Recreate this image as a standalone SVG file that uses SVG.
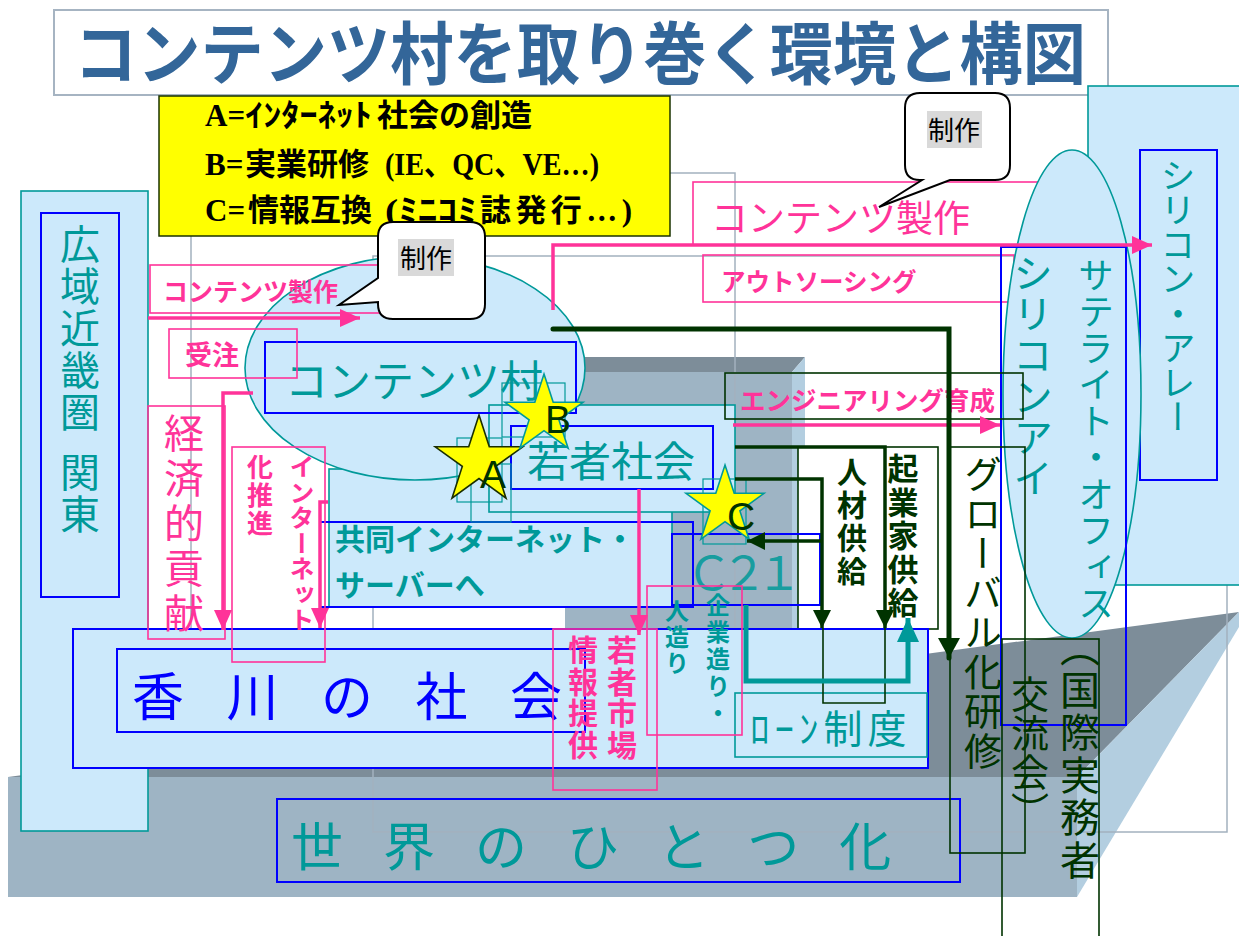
<svg xmlns="http://www.w3.org/2000/svg" width="1239" height="936" viewBox="0 0 1239 936">
<defs>
<style>
text { font-family: 'Noto Sans CJK JP', 'Noto Sans', sans-serif; }
.b { font-weight: bold; }
.v { writing-mode: vertical-rl; }
.pk { fill: #ff3399; }
.tl { fill: #009999; }
.bl { fill: #0000ff; }
.dg { fill: #003300; }
.lb { fill: #cce9fb; }
.nf { fill: none; }
.pbox { fill: none; stroke: #ff3399; stroke-width: 1.6; }
.bbox { stroke: #0000ff; stroke-width: 2; }
.tbox { stroke: #009999; stroke-width: 1.6; }
.gbox { fill: none; stroke: #003300; stroke-width: 1.6; }
.gray { fill: none; stroke: #a3b1be; stroke-width: 1.5; }
.front { fill: #9eb4c4; }
.top { fill: #7d8d99; }
.side { fill: #b3cee0; }
.leg { font-family: 'Liberation Serif', 'Noto Sans CJK JP', serif; font-weight: bold; fill: #000000; }
.parrow { fill: none; stroke: #ff3399; stroke-width: 3.5; marker-end: url(#mp); }
.garrow { fill: none; stroke: #003300; stroke-width: 3.5; marker-end: url(#mg); }
.tarrow { fill: none; stroke: #009999; stroke-width: 5; marker-end: url(#mt); }
.star { fill: #ffff00; stroke-width: 1.6; }
.sbox { fill: none; stroke: #009999; stroke-width: 1.2; }
.bub { fill: #ffffff; stroke: #000000; stroke-width: 2; }
.hl { fill: #d9d9d9; }
.lt { font-family: 'Liberation Sans', sans-serif; fill: #003300; }
</style>
<marker id="mp" markerUnits="userSpaceOnUse" markerWidth="20" markerHeight="18" refX="20" refY="9" orient="auto"><path d="M0,0 L20,9 L0,18 Z" fill="#ff3399"/></marker>
<marker id="mg" markerUnits="userSpaceOnUse" markerWidth="18" markerHeight="18" refX="18" refY="9" orient="auto"><path d="M0,0 L18,9 L0,18 Z" fill="#003300"/></marker>
<marker id="mgb" markerUnits="userSpaceOnUse" markerWidth="20" markerHeight="22" refX="20" refY="11" orient="auto"><path d="M0,0 L20,11 L0,22 Z" fill="#003300"/></marker>
<marker id="mt" markerUnits="userSpaceOnUse" markerWidth="24" markerHeight="22" refX="24" refY="11" orient="auto"><path d="M0,0 L24,11 L0,22 Z" fill="#009999"/></marker>
</defs>

<g id="floor">
<polygon class="front" points="8,777 1077,777 1077,897 8,897"/>
<polygon class="top" points="8,777 1239,612 1077,777"/>
<polygon class="side" points="1077,777 1239,612 1239,627 1077,897"/>
</g>

<g id="building">
<polygon class="front" points="565,372 792,372 792,768 565,768"/>
<polygon class="top" points="565,372 585,357 805,357 792,372"/>
<polygon class="side" points="792,372 805,357 805,756 792,768"/>
</g>

<g id="frames">
<rect class="gray" x="373" y="256" width="854" height="576"/>
<rect class="gray" x="191" y="173" width="544" height="527"/>
</g>

<g id="kouiki">
<rect class="lb tbox" x="21" y="191" width="127" height="640"/>
<rect class="lb bbox" x="41" y="213" width="78" height="384"/>
<text class="v tl" x="80" y="224" font-size="40" letter-spacing="2">広域近畿圏</text>
<text class="v tl" x="80" y="452" font-size="40" letter-spacing="2">関東</text>
</g>

<g id="title">
<rect x="54" y="10" width="1054" height="85" fill="#ffffff" stroke="#a6b4c2" stroke-width="2"/>
<text class="b" x="74" y="79" font-size="68" fill="#336699" textLength="1012" lengthAdjust="spacingAndGlyphs">コンテンツ村を取り巻く環境と構図</text>
</g>

<g id="legend">
<rect x="159" y="96" width="511" height="140" fill="#ffff00" stroke="#1a3300" stroke-width="1.5"/>
<text class="leg" font-size="31"><tspan x="205" y="126">A=</tspan><tspan x="245" textLength="127" lengthAdjust="spacingAndGlyphs">ｲﾝﾀｰﾈｯﾄ</tspan><tspan x="377">社会の創造</tspan></text>
<text class="leg" font-size="31"><tspan x="205" y="175">B=</tspan><tspan x="245">実業研修</tspan><tspan x="385" textLength="214" lengthAdjust="spacingAndGlyphs">(IE、QC、VE…)</tspan></text>
<text class="leg" font-size="31"><tspan x="205" y="221">C=</tspan><tspan x="248">情報互換</tspan><tspan x="385" textLength="92" lengthAdjust="spacingAndGlyphs">(ﾐﾆｺﾐ</tspan><tspan x="480" textLength="152" lengthAdjust="spacing">誌発行…)</tspan></text>
</g>

<g id="area-r2">
<rect class="lb tbox" x="329" y="469" width="343" height="138"/>
</g>

<g id="contents-mura">
<ellipse class="lb tbox" cx="415" cy="368" rx="170" ry="112"/>
</g>

<g id="area-r1">
<rect class="lb tbox" x="489" y="405" width="246" height="107"/>
</g>

<g id="mura-label">
<rect class="nf bbox" x="265" y="342" width="311" height="71"/>
<text class="tl" x="285" y="397" font-size="43">コンテンツ村</text>
</g>

<g id="seisaku-small">
<rect class="pbox" x="150" y="265" width="235" height="48"/>
<text class="b pk" x="163" y="301" font-size="25">コンテンツ製作</text>
</g>

<g id="wakamono">
<rect class="nf bbox" x="511" y="426" width="202" height="63"/>
<text class="tl" x="527" y="477" font-size="42">若者社会</text>
</g>

<g id="kyoudou">
<rect class="nf bbox" x="320" y="522" width="373" height="85"/>
<text class="b tl" x="335" y="550" font-size="30">共同インターネット・</text>
<text class="b tl" x="335" y="596" font-size="30">サーバーへ</text>
</g>

<g id="jinzai">
<rect x="798" y="447" width="87" height="182" fill="#ffffff" stroke="#003300" stroke-width="1.6"/>
<text class="v b dg" x="852" y="457" font-size="30" letter-spacing="3">人材供給</text>
</g>

<g id="kigyouka">
<rect x="885" y="447" width="53" height="182" fill="#ffffff" stroke="#003300" stroke-width="1.6"/>
<text class="v b dg" x="903" y="453" font-size="31" letter-spacing="2.5">起業家供給</text>
</g>

<g id="c21">
<rect class="nf bbox" x="672" y="534" width="148" height="71"/>
<text class="tl" x="686" y="590" font-size="46" letter-spacing="-11" fill-opacity="0.85">Ｃ２１</text>
</g>

<g id="kagawa">
<rect class="lb bbox" x="73" y="629" width="855" height="139"/>
<rect class="nf bbox" x="117" y="649" width="468" height="83"/>
<text class="bl" x="132" y="716" font-size="52" letter-spacing="42.5">香川の社会</text>
</g>

<g id="sekai">
<rect class="nf bbox" x="277" y="799" width="683" height="83"/>
<text class="tl" x="291" y="866" font-size="52" letter-spacing="40">世界のひとつ化</text>
</g>

<g id="loan">
<rect class="lb tbox" x="735" y="693" width="192" height="64"/>
<text class="tl" x="750" y="743" font-size="39" letter-spacing="5">ﾛｰﾝ制度</text>
</g>

<g id="keizai">
<rect class="pbox" x="148" y="406" width="77" height="233"/>
<text class="v pk" x="184" y="413" font-size="40" letter-spacing="5">経済的貢献</text>
</g>

<g id="internet-suishin">
<rect class="pbox" x="232" y="447" width="93" height="215"/>
<text class="v b pk" x="302" y="454" font-size="25" letter-spacing="0.5">インターネット</text>
<text class="v b pk" x="260" y="454" font-size="26" letter-spacing="2">化推進</text>
</g>

<g id="juchu">
<rect class="pbox" x="169" y="329" width="128" height="49"/>
<text class="b pk" x="185" y="365" font-size="27">受注</text>
</g>

<g id="jouhou">
<rect class="pbox" x="553" y="629" width="104" height="161"/>
<text class="v b pk" x="622" y="635" font-size="30" letter-spacing="1.5">若者市場</text>
<text class="v b pk" x="583" y="635" font-size="30" letter-spacing="1.5">情報提供</text>
</g>

<g id="hitozukuri">
<rect class="pbox" x="647" y="586" width="95" height="149"/>
<text class="v b tl" x="718" y="593" font-size="24" letter-spacing="3">企業造り・</text>
<text class="v b tl" x="677" y="599" font-size="24" letter-spacing="2">人造り</text>
</g>

<g id="star-a">
<rect class="sbox" x="457" y="438" width="45" height="64"/>
<rect class="sbox" x="471" y="464" width="40" height="58"/>
<polygon class="star" stroke="#1a2e00" points="479,415 489.3,446.8 522.8,446.8 495.7,466.4 506,498.2 479,478.6 452,498.2 462.3,466.4 435.2,446.8 468.7,446.8"/>
<text class="lt" x="480" y="488" font-size="39">A</text>
</g>

<g id="star-b">
<rect class="sbox" x="502" y="383" width="63" height="54"/>
<polygon class="star" stroke="#009999" points="544,374 553.2,402.3 583,402.3 558.9,419.9 568.1,448.2 544,430.7 519.9,448.2 529.1,419.9 505,402.3 534.8,402.3"/>
<text class="lt" x="545" y="433" font-size="39">B</text>
</g>

<g id="star-c">
<rect class="sbox" x="703" y="479" width="43" height="65"/>
<polygon class="star" stroke="#009999" points="725,465 734.2,493.3 764,493.3 739.9,510.9 749.1,539.2 725,521.7 700.9,539.2 710.1,510.9 686,493.3 715.8,493.3"/>
<text class="lt" x="727" y="530" font-size="39">C</text>
</g>

<g id="seisaku-big">
<rect class="pbox" x="693" y="182" width="385" height="63"/>
<text class="pk" x="711" y="232" font-size="37">コンテンツ製作</text>
</g>

<g id="outsourcing">
<rect class="pbox" x="703" y="255" width="311" height="47"/>
<text class="b pk" x="721" y="291" font-size="24.5">アウトソーシング</text>
</g>

<g id="silicon-alley">
<rect class="lb tbox" x="1088" y="86" width="155" height="499"/>
<rect class="lb bbox" x="1140" y="150" width="77" height="330"/>
<text class="v tl" x="1178" y="158" font-size="35" letter-spacing="-0.5">シリコン・アレー</text>
</g>

<g id="satellite">
<ellipse class="lb tbox" cx="1072" cy="394" rx="69" ry="244"/>
<text class="v tl" x="1096" y="257" font-size="36" letter-spacing="0.5">サテライト・オフィス</text>
</g>

<g id="silicon-valley">
<rect class="nf bbox" x="1001" y="247" width="125" height="478"/>
<text class="v tl" x="1033" y="253" font-size="40" letter-spacing="1">シリコンアイ</text>
</g>

<g id="engineering">
<rect class="gbox" x="725" y="373" width="298" height="46"/>
<text class="b pk" x="740" y="410" font-size="25.5">エンジニアリング育成</text>
</g>

<g id="global">
<rect class="gbox" x="950" y="447" width="75" height="406"/>
<text class="v dg" x="983" y="455" font-size="38" letter-spacing="1.5">グローバル化研修</text>
</g>

<g id="kokusai">
<rect class="gbox" x="1002" y="639" width="97" height="320"/>
<text class="v dg" x="1080" y="627" font-size="40" letter-spacing="2.5">（国際実務者</text>
<text class="v dg" x="1030" y="675" font-size="38" letter-spacing="1">交流会）</text>
</g>

<g id="connectors">
<path class="parrow" d="M148,318 H360"/>
<path class="parrow" d="M553,310 V245 H1152"/>
<path class="parrow" d="M733,425 H1000"/>
<path class="parrow" d="M253,393 H223 V630"/>
<path class="parrow" d="M328,502 H320 V628"/>
<path class="parrow" d="M639,489 V635"/>
<path d="M553,329 H949 V658" fill="none" stroke="#003300" stroke-width="5" stroke-linecap="round" marker-end="url(#mgb)"/>
<path class="garrow" d="M735,447 H885 V628"/>
<path class="garrow" d="M735,479 H822 V628"/>
<path class="garrow" d="M822,541 H747"/>
<path d="M823,628 V703 H885 V628" fill="none" stroke="#003300" stroke-width="1.6"/>
<path class="tarrow" d="M746,605 V681 H908 V618"/>
</g>

<g id="bubble-left">
<path class="bub" d="M393,222 H470 Q485,222 485,237 V304 Q485,319 470,319 H393 Q378,319 378,304 V302 L339,305 L378,278 V237 Q378,222 393,222 Z"/>
<rect class="hl" x="398" y="239" width="56" height="37"/>
<text x="400" y="268" font-size="26" fill="#000">制作</text>
</g>

<g id="bubble-right">
<path class="bub" d="M920,93 H995 Q1010,93 1010,108 V165 Q1010,180 995,180 H950 L879,207 L922,180 H920 Q905,180 905,165 V108 Q905,93 920,93 Z"/>
<rect class="hl" x="927" y="111" width="55" height="37"/>
<text x="928" y="140" font-size="26" fill="#000">制作</text>
</g>
</svg>
